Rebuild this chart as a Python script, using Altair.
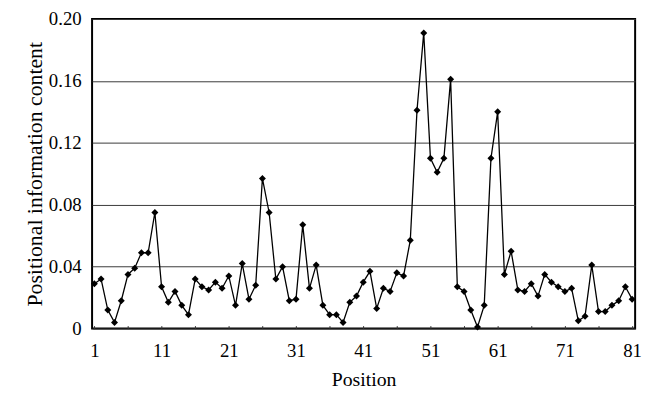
import altair as alt
import pandas as pd

positions = list(range(1, 82))
values = [
    0.029, 0.032, 0.012, 0.004, 0.018, 0.035, 0.039, 0.049, 0.049, 0.075,
    0.027, 0.017, 0.024, 0.015, 0.009, 0.032, 0.027, 0.025, 0.030, 0.026,
    0.034, 0.015, 0.042, 0.019, 0.028, 0.097, 0.075, 0.032, 0.040, 0.018,
    0.019, 0.067, 0.026, 0.041, 0.015, 0.009, 0.009, 0.004, 0.017, 0.021,
    0.030, 0.037, 0.013, 0.026, 0.024, 0.036, 0.034, 0.057, 0.141, 0.191,
    0.110, 0.101, 0.110, 0.161, 0.027, 0.024, 0.012, 0.001, 0.015, 0.110,
    0.140, 0.035, 0.050, 0.025, 0.024, 0.029, 0.021, 0.035, 0.030, 0.027,
    0.024, 0.026, 0.005, 0.008, 0.041, 0.011, 0.011, 0.015, 0.018, 0.027,
    0.019,
]
x_tick_labels = [1, 11, 21, 31, 41, 51, 61, 71, 81]
x_minor_ticks = list(range(1, 82, 5))
y_ticks = [0, 0.04, 0.08, 0.12, 0.16, 0.20]

df = pd.DataFrame({"Position": positions, "Value": values})

FONT = "Liberation Serif"
W, H = 549, 313

xscale = alt.Scale(domain=[0.66, 81.45], nice=False, zero=False)
yscale = alt.Scale(domain=[0, 0.2], nice=False)

base = alt.Chart(df)

line = base.mark_line(color="black", strokeWidth=1.3).encode(
    x=alt.X("Position:Q", scale=xscale,
            axis=alt.Axis(orient="bottom", values=x_tick_labels, title="Position",
                          grid=False, ticks=False, tickSize=0, domain=False,
                          labelFont=FONT, labelFontSize=19, labelColor="black",
                          labelPadding=13, titleFont=FONT, titleFontSize=20,
                          titleFontWeight="normal", titleColor="black",
                          titlePadding=10, labelFlush=False)),
    y=alt.Y("Value:Q", scale=yscale,
            axis=alt.Axis(values=y_ticks, title="Positional information content",
                          labelExpr="datum.value == 0 ? '0' : format(datum.value, '.2f')",
                          grid=True, gridColor="#3a3a3a", gridWidth=1,
                          ticks=False, tickSize=0, domain=False,
                          labelFont=FONT, labelFontSize=19, labelColor="black",
                          labelPadding=11, titleFont=FONT, titleFontSize=22,
                          titleFontWeight="normal", titleColor="black",
                          titlePadding=2)),
)

points = base.mark_point(shape="diamond", filled=True, color="black",
                         size=50, opacity=1).encode(
    x=alt.X("Position:Q", scale=xscale,
            axis=alt.Axis(orient="top", offset=-H, values=x_minor_ticks,
                          labels=False, title=None, grid=False, domain=False,
                          ticks=True, tickSize=3, tickColor="#333333",
                          tickWidth=1)),
    y=alt.Y("Value:Q", scale=yscale),
)

chart = alt.layer(line, points).resolve_axis(x="independent").properties(
    width=W, height=H, background="white",
    padding={"left": 15, "top": 0, "right": 5, "bottom": 0},
).configure_view(
    stroke="black", strokeWidth=2
)

chart.save("out.html", embed_options={"renderer": "svg", "actions": False})
